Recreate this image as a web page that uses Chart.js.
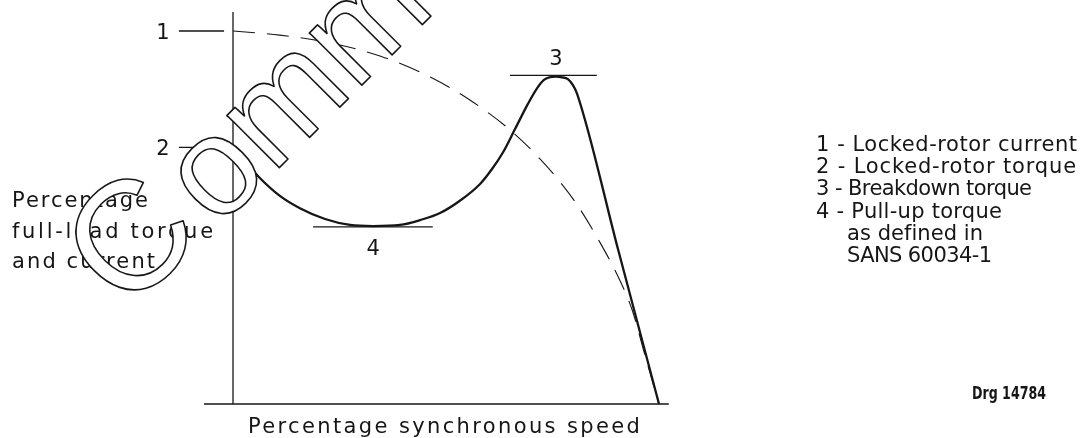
<!DOCTYPE html>
<html>
<head>
<meta charset="utf-8">
<script src="https://cdn.jsdelivr.net/npm/chart.js@4.4.1/dist/chart.umd.min.js"></script>
<style>
  html, body { margin: 0; padding: 0; background: #ffffff; }
  #wrap { width: 1082px; height: 438px; position: relative; }
</style>
</head>
<body>
<div id="wrap"><canvas id="c"></canvas></div>
<script>
// ---- data (x: percentage synchronous speed, y: relative percentage) ----
const speedTorque = [0, 2.8, 6.3, 11.0, 15.7, 21.6, 27.5, 32.9, 39.2, 43.9, 48.6, 53.5, 58.0, 60.8, 63.4, 66.2, 69.2, 71.4, 73.0, 74.4, 75.8, 77.2, 78.6, 79.8, 80.8, 90.4, 100];
const torque      = [68.8, 65.1, 60.6, 55.8, 52.5, 49.6, 48.0, 47.7, 48.0, 49.3, 51.2, 54.7, 59.0, 63.0, 67.5, 73.7, 80.4, 84.7, 86.9, 87.6, 87.8, 87.6, 87.1, 85.5, 83.1, 41.4, 0];
const speedCurrent = [0, 11.0, 22.8, 34.5, 46.2, 55.6, 65.0, 73.2, 80.3, 86.2, 90.8, 93.7, 96.7, 100];
const current      = [100, 98.9, 96.8, 93.3, 87.7, 81.5, 73.5, 64.3, 54.2, 43.2, 33.2, 25.2, 13.1, 0];

// reference marks: [xStart, xEnd], level
const mark1X = [-12.7, -2.1];  const mark1Y = 100;   // locked-rotor current
const mark2X = [-12.7, -1.2];  const mark2Y = 68.8;  // locked-rotor torque
const mark3X = [65.0, 85.4];   const mark3Y = 88.1;  // breakdown torque
const mark4X = [18.8, 46.9];   const mark4Y = 47.5;  // pull-up torque

const axisXRange = [-6.8, 102.3];
const axisYRange = [0, 105.1];

const markLabels = ['1', '2', '3', '4'];
const legendLines = ['1 - Locked-rotor current', '2 - Locked-rotor torque', '3 - Breakdown torque', '4 - Pull-up torque', 'as defined in', 'SANS 60034-1'];
const yTitle = ['Percentage', 'full-load torque', 'and current'];
const xTitle = 'Percentage synchronous speed';
const drawingRef = 'Drg 14784';
const watermarkHead = 'C';
const watermarkTail = 'omment';

// ---- build ----
const pts = (xs, ys) => xs.map((x, i) => ({ x: x, y: ys[i] }));
const hline = (xs, y) => [{ x: xs[0], y: y }, { x: xs[1], y: y }];
const INK = '#161616';

const base = { pointRadius: 0, borderColor: INK, fill: false, tension: 0, borderWidth: 1.3 };

const datasets = [
  Object.assign({}, base, { label: 'axisY', data: [{ x: 0, y: axisYRange[0] }, { x: 0, y: axisYRange[1] }] }),
  Object.assign({}, base, { label: 'axisX', data: [{ x: axisXRange[0], y: 0 }, { x: axisXRange[1], y: 0 }] }),
  Object.assign({}, base, { label: 'm1', data: hline(mark1X, mark1Y) }),
  Object.assign({}, base, { label: 'm2', data: hline(mark2X, mark2Y) }),
  Object.assign({}, base, { label: 'm3', data: hline(mark3X, mark3Y) }),
  Object.assign({}, base, { label: 'm4', data: hline(mark4X, mark4Y) }),
  Object.assign({}, base, { label: 'current', data: pts(speedCurrent, current), borderWidth: 1.1, borderDash: [22, 12], cubicInterpolationMode: 'monotone' }),
  Object.assign({}, base, { label: 'torque', data: pts(speedTorque, torque), borderWidth: 2.3, cubicInterpolationMode: 'monotone' })
];

function fitText(ctx, txt, x, y, w, font, mode) {
  ctx.font = font;
  ctx.letterSpacing = '0px';
  const m = ctx.measureText(txt).width;
  if (mode === 'scale') {
    ctx.save();
    ctx.translate(x, y);
    ctx.scale(w / m, 1);
    ctx.fillText(txt, 0, 0);
    ctx.restore();
  } else {
    const ls = (w - m) / Math.max(1, txt.length - 1);
    ctx.letterSpacing = ls.toFixed(2) + 'px';
    ctx.fillText(txt, x, y);
    ctx.letterSpacing = '0px';
  }
}

const textPlugin = {
  id: 'texts',
  afterDraw(chart) {
    const ctx = chart.ctx;
    const xs = chart.scales.x, ys = chart.scales.y;
    const F = '21px "DejaVu Sans"';
    ctx.save();
    ctx.fillStyle = INK;
    ctx.textBaseline = 'alphabetic';
    // mark numbers
    ctx.font = F;
    ctx.textAlign = 'center';
    ctx.fillText(markLabels[0], 163, ys.getPixelForValue(mark1Y) + 8);
    ctx.fillText(markLabels[1], 163, ys.getPixelForValue(mark2Y) + 8);
    ctx.fillText(markLabels[2], xs.getPixelForValue(75.8), ys.getPixelForValue(mark3Y) - 10);
    ctx.fillText(markLabels[3], xs.getPixelForValue(32.9), ys.getPixelForValue(mark4Y) + 28);
    ctx.textAlign = 'left';
    // legend
    const legW = [261, 260, 216, 186, 136, 145];
    const legX = [816, 816, 816, 816, 847, 847];
    legendLines.forEach((t, i) => fitText(ctx, t, legX[i], 151 + i * 22.2, legW[i], F));
    // y title
    const yW = [136, 201, 143];
    yTitle.forEach((t, i) => fitText(ctx, t, 12, 207 + i * 30.5, yW[i], F));
    // x title
    fitText(ctx, xTitle, 248, 433, 392, F);
    // drawing reference
    fitText(ctx, drawingRef, 972, 399, 74, 'bold 17px "DejaVu Sans"', 'scale');
    ctx.restore();

    // watermark (white filled, outlined)
    ctx.save();
    ctx.translate(146, 301);
    ctx.rotate(-Math.PI / 4);
    ctx.letterSpacing = '0px';
    ctx.lineWidth = 1.6;
    ctx.strokeStyle = INK;
    ctx.fillStyle = '#ffffff';
    ctx.lineJoin = 'round';
    ctx.font = '140px "Liberation Sans"';
    const cw = ctx.measureText(watermarkHead).width;
    ctx.fillText(watermarkTail, cw, 0);
    ctx.strokeText(watermarkTail, cw, 0);
    ctx.font = '155px "Liberation Sans"';
    ctx.fillText(watermarkHead, -23, -4);
    ctx.strokeText(watermarkHead, -23, -4);
    ctx.restore();
  }
};

new Chart(document.getElementById('c'), {
  type: 'line',
  data: { datasets: datasets },
  options: {
    responsive: true,
    maintainAspectRatio: false,
    animation: false,
    layout: { padding: 0 },
    plugins: { legend: { display: false }, tooltip: { enabled: false } },
    scales: {
      x: { type: 'linear', display: false, min: -233 / 4.26, max: (1082 - 233) / 4.26 },
      y: { type: 'linear', display: false, min: -(438 - 404) / 3.73, max: 404 / 3.73 }
    }
  },
  plugins: [textPlugin]
});
</script>
</body>
</html>
